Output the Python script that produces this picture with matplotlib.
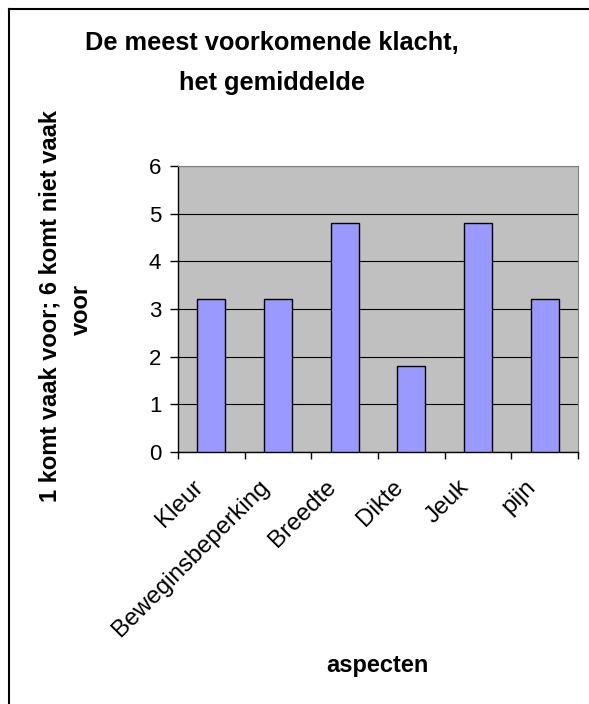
import matplotlib
matplotlib.use("Agg")
import matplotlib.pyplot as plt
import matplotlib.transforms as mtransforms
from matplotlib.lines import Line2D

plt.rcParams['font.family'] = ['Liberation Sans', 'DejaVu Sans']

categories = ["Kleur", "Beweginsbeperking", "Breedte", "Dikte", "Jeuk", "pijn"]
values = [3.2, 3.2, 4.8, 1.8, 4.8, 3.2]
y_ticks = [0, 1, 2, 3, 4, 5, 6]

W, H = 589, 704
fig = plt.figure(figsize=(W / 100, H / 100), dpi=100)
fig.patch.set_facecolor("white")

# plot area in pixel terms
ax = fig.add_axes([178 / W, 1 - 452 / H, 400 / W, 286 / H])
ax.set_facecolor("#C0C0C0")

x = list(range(len(categories)))
ax.bar(x, values, width=0.42, color="#9999FF", edgecolor="black", linewidth=1.0, zorder=3)

ax.set_xlim(-0.5, len(categories) - 0.5)
ax.set_ylim(0, 6)
ax.set_yticks(y_ticks)
ax.yaxis.grid(True, color="black", linewidth=0.8, zorder=1)
ax.set_axisbelow(True)

for s in ["top", "right"]:
    ax.spines[s].set_color("#808080")
for s in ["left", "bottom"]:
    ax.spines[s].set_color("black")
    ax.spines[s].set_linewidth(1.0)

ax.tick_params(axis="y", labelsize=16, length=6, width=1, pad=6)

# x ticks sit between the categories
ax.set_xticks([i - 0.5 for i in range(len(categories) + 1)])
ax.set_xticklabels([])
ax.tick_params(axis="x", length=5, width=1)

# rotated category labels, anchored a bit left of / below each centre
trans = ax.get_xaxis_transform() + mtransforms.ScaledTranslation(-12 / 100, -32 / 100,
                                                                  fig.dpi_scale_trans)
for i, lab in enumerate(categories):
    ax.text(i, 0, lab, transform=trans, rotation=45, rotation_mode="anchor",
            ha="right", va="center", fontsize=17.5)

fig.text(377 / W, 1 - 672 / H, "aspecten", ha="center", va="baseline",
         fontsize=17, fontweight="bold")

fig.text(272 / W, 1 - 50 / H, "De meest voorkomende klacht,", ha="center",
         va="baseline", fontsize=18.3, fontweight="bold")
fig.text(272 / W, 1 - 90 / H, "het gemiddelde", ha="center",
         va="baseline", fontsize=18.3, fontweight="bold")

fig.text(57 / W, 1 - 306 / H, "1 komt vaak voor; 6 komt niet vaak", rotation=90,
         rotation_mode="anchor", ha="center", va="baseline", fontsize=17,
         fontweight="bold")
fig.text(88 / W, 1 - 309 / H, "voor", rotation=90, rotation_mode="anchor",
         ha="center", va="baseline", fontsize=17, fontweight="bold")

# chart border (only top and left visible)
fig.add_artist(Line2D([8.5 / W, 1], [1 - 8.5 / H, 1 - 8.5 / H], color="black", lw=1.5,
                      transform=fig.transFigure))
fig.add_artist(Line2D([8.5 / W, 8.5 / W], [0, 1 - 8.5 / H], color="black", lw=1.5,
                      transform=fig.transFigure))

fig.savefig("out.png", dpi=100)
